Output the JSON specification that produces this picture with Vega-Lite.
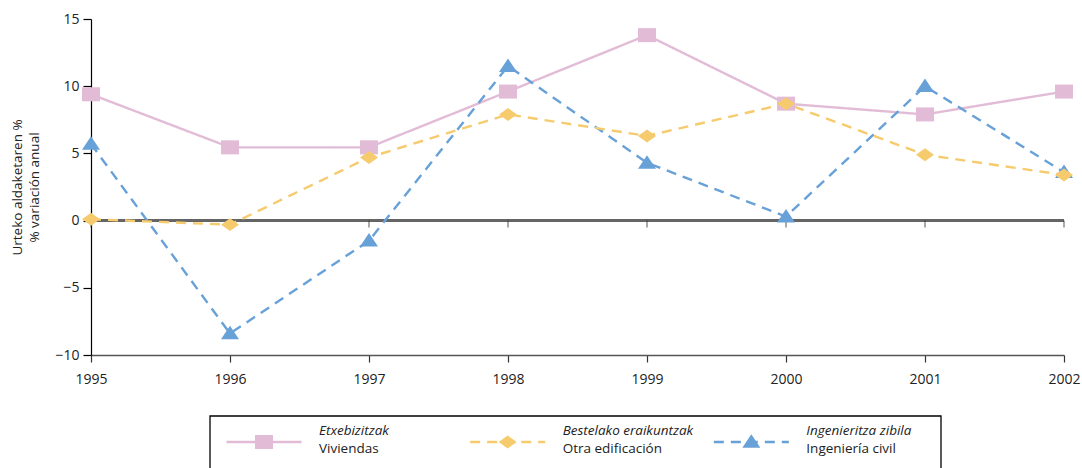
{
  "$schema": "https://vega.github.io/schema/vega-lite/v6.json",
  "padding": {"left": 10, "top": 12, "right": 0, "bottom": 0},
  "autosize": {"type": "pad"},
  "bounds": "flush",
  "spacing": 61,
  "resolve": {"scale": {"x": "independent", "y": "independent", "color": "independent", "shape": "independent", "strokeDash": "independent"}},
  "config": {
    "view": {"stroke": null},
    "font": "Open Sans",
    "axis": {"labelFont": "Open Sans", "titleFont": "Open Sans", "labelColor": "#222", "titleColor": "#222", "labelFontSize": 14, "grid": false}
  },
  "datasets": {
    "main": [
      {"year": 1995, "series": "Viviendas", "value": 9.4},
      {"year": 1996, "series": "Viviendas", "value": 5.45},
      {"year": 1997, "series": "Viviendas", "value": 5.45},
      {"year": 1998, "series": "Viviendas", "value": 9.6},
      {"year": 1999, "series": "Viviendas", "value": 13.8},
      {"year": 2000, "series": "Viviendas", "value": 8.7},
      {"year": 2001, "series": "Viviendas", "value": 7.9},
      {"year": 2002, "series": "Viviendas", "value": 9.6},
      {"year": 1995, "series": "Ingeniería civil", "value": 5.7},
      {"year": 1996, "series": "Ingeniería civil", "value": -8.4},
      {"year": 1997, "series": "Ingeniería civil", "value": -1.5},
      {"year": 1998, "series": "Ingeniería civil", "value": 11.5},
      {"year": 1999, "series": "Ingeniería civil", "value": 4.3},
      {"year": 2000, "series": "Ingeniería civil", "value": 0.3},
      {"year": 2001, "series": "Ingeniería civil", "value": 10.0},
      {"year": 2002, "series": "Ingeniería civil", "value": 3.6},
      {"year": 1995, "series": "Otra edificación", "value": 0.1},
      {"year": 1996, "series": "Otra edificación", "value": -0.3},
      {"year": 1997, "series": "Otra edificación", "value": 4.7},
      {"year": 1998, "series": "Otra edificación", "value": 7.9},
      {"year": 1999, "series": "Otra edificación", "value": 6.3},
      {"year": 2000, "series": "Otra edificación", "value": 8.7},
      {"year": 2001, "series": "Otra edificación", "value": 4.9},
      {"year": 2002, "series": "Otra edificación", "value": 3.4}
    ],
    "legend": [
      {"series": "Viviendas", "eu": "Etxebizitzak", "es": "Viviendas"},
      {"series": "Otra edificación", "eu": "Bestelako eraikuntzak", "es": "Otra edificación"},
      {"series": "Ingeniería civil", "eu": "Ingenieritza zibila", "es": "Ingeniería civil"}
    ]
  },
  "vconcat": [
    {
      "width": 973,
      "height": 336,
      "data": {"name": "main"},
      "encoding": {
        "x": {"field": "year", "type": "quantitative", "scale": {"domain": [1995, 2002], "nice": false, "zero": false},
          "axis": {"title": null, "values": [1995, 1996, 1997, 1998, 1999, 2000, 2001, 2002], "format": "d", "domainColor": "#555", "domainWidth": 1.5, "tickColor": "#333", "tickSize": 7, "tickWidth": 1.2, "labelPadding": 10, "labelFlush": false}},
        "y": {"field": "value", "type": "quantitative", "scale": {"domain": [-10, 15], "nice": false, "zero": false},
          "axis": {"title": ["Urteko aldaketaren %", "% variación anual"], "titleFontSize": 13.5, "titleFontWeight": "normal", "titleLineHeight": 17, "titlePadding": 13, "values": [-10, -5, 0, 5, 10, 15], "domainColor": "#000", "domainWidth": 1.2, "tickColor": "#000", "tickSize": 8, "tickWidth": 1.2, "labelPadding": 4}}
      },
      "layer": [
        {"mark": {"type": "rule", "color": "#666", "strokeWidth": 1.5}, "encoding": {"y": {"datum": 0}, "x": null}},
        {"transform": [{"filter": "datum.series === 'Viviendas'"}],
          "mark": {"type": "tick", "orient": "vertical", "color": "#333", "size": 7, "thickness": 1.2, "yOffset": 3.5},
          "encoding": {"y": {"datum": 0}}},
        {"mark": {"type": "line", "strokeWidth": 2.4},
          "encoding": {
            "color": {"field": "series", "type": "nominal", "scale": {"domain": ["Viviendas", "Ingeniería civil", "Otra edificación"], "range": ["#e2bcd6", "#68a1d8", "#f6cb6e"]}, "legend": null},
            "strokeDash": {"field": "series", "type": "nominal", "scale": {"domain": ["Viviendas", "Ingeniería civil", "Otra edificación"], "range": [[1, 0], [10, 7], [10, 7]]}, "legend": null},
            "order": {"field": "year"}
          }},
        {"mark": {"type": "point", "filled": true, "opacity": 1, "size": 324},
          "encoding": {
            "color": {"field": "series", "type": "nominal", "scale": {"domain": ["Viviendas", "Ingeniería civil", "Otra edificación"], "range": ["#e2bcd6", "#68a1d8", "#f6cb6e"]}, "legend": null},
            "shape": {"field": "series", "type": "nominal", "scale": {"domain": ["Viviendas", "Ingeniería civil", "Otra edificación"], "range": ["M-1,-0.78H1V0.78H-1Z", "M0,-0.85L1,0.65H-1Z", "M-1,0L0,-0.72L1,0L0,0.72Z"]}, "legend": null}
          }}
      ]
    },
    {
      "width": 850,
      "height": 60,
      "data": {"name": "legend"},
      "layer": [
        {"data": {"values": [{}]},
          "mark": {"type": "rect", "fill": "#fff", "fillOpacity": 0, "stroke": "#000", "strokeWidth": 1.3},
          "encoding": {
            "x": {"datum": "Viviendas", "type": "nominal", "bandPosition": 0, "axis": null,
              "scale": {"domain": ["Viviendas", "Otra edificación", "Ingeniería civil"], "type": "band", "paddingInner": 0, "paddingOuter": 0.2442, "align": 1}},
            "x2": {"datum": "Ingeniería civil", "bandPosition": 1}
          }},
        {"mark": {"type": "point", "shape": "M-1,0H1", "filled": false, "size": 5625, "strokeWidth": 2.4, "opacity": 1, "xOffset": 54, "yOffset": -4},
          "encoding": {
            "x": {"field": "series", "type": "nominal", "bandPosition": 0, "axis": null},
            "color": {"field": "series", "type": "nominal", "scale": {"domain": ["Viviendas", "Ingeniería civil", "Otra edificación"], "range": ["#e2bcd6", "#68a1d8", "#f6cb6e"]}, "legend": null},
            "strokeDash": {"field": "series", "type": "nominal", "scale": {"domain": ["Viviendas", "Ingeniería civil", "Otra edificación"], "range": [[1, 0], [10, 7], [10, 7]]}, "legend": null}
          }},
        {"mark": {"type": "point", "filled": true, "opacity": 1, "size": 324, "xOffset": 54, "yOffset": -4},
          "encoding": {
            "x": {"field": "series", "type": "nominal", "bandPosition": 0, "axis": null},
            "color": {"field": "series", "type": "nominal", "scale": {"domain": ["Viviendas", "Ingeniería civil", "Otra edificación"], "range": ["#e2bcd6", "#68a1d8", "#f6cb6e"]}, "legend": null},
            "shape": {"field": "series", "type": "nominal", "scale": {"domain": ["Viviendas", "Ingeniería civil", "Otra edificación"], "range": ["M-1,-0.78H1V0.78H-1Z", "M0,-0.85L1,0.65H-1Z", "M-1,0L0,-0.72L1,0L0,0.72Z"]}, "legend": null}
          }},
        {"mark": {"type": "text", "align": "left", "baseline": "middle", "fontStyle": "italic", "fontSize": 13.5, "color": "#222", "xOffset": 109, "yOffset": -15},
          "encoding": {
            "x": {"field": "series", "type": "nominal", "bandPosition": 0, "axis": null},
            "text": {"field": "eu"}
          }},
        {"mark": {"type": "text", "align": "left", "baseline": "middle", "fontSize": 13.5, "color": "#222", "xOffset": 109, "yOffset": 3},
          "encoding": {
            "x": {"field": "series", "type": "nominal", "bandPosition": 0, "axis": null},
            "text": {"field": "es"}
          }}
      ]
    }
  ]
}
